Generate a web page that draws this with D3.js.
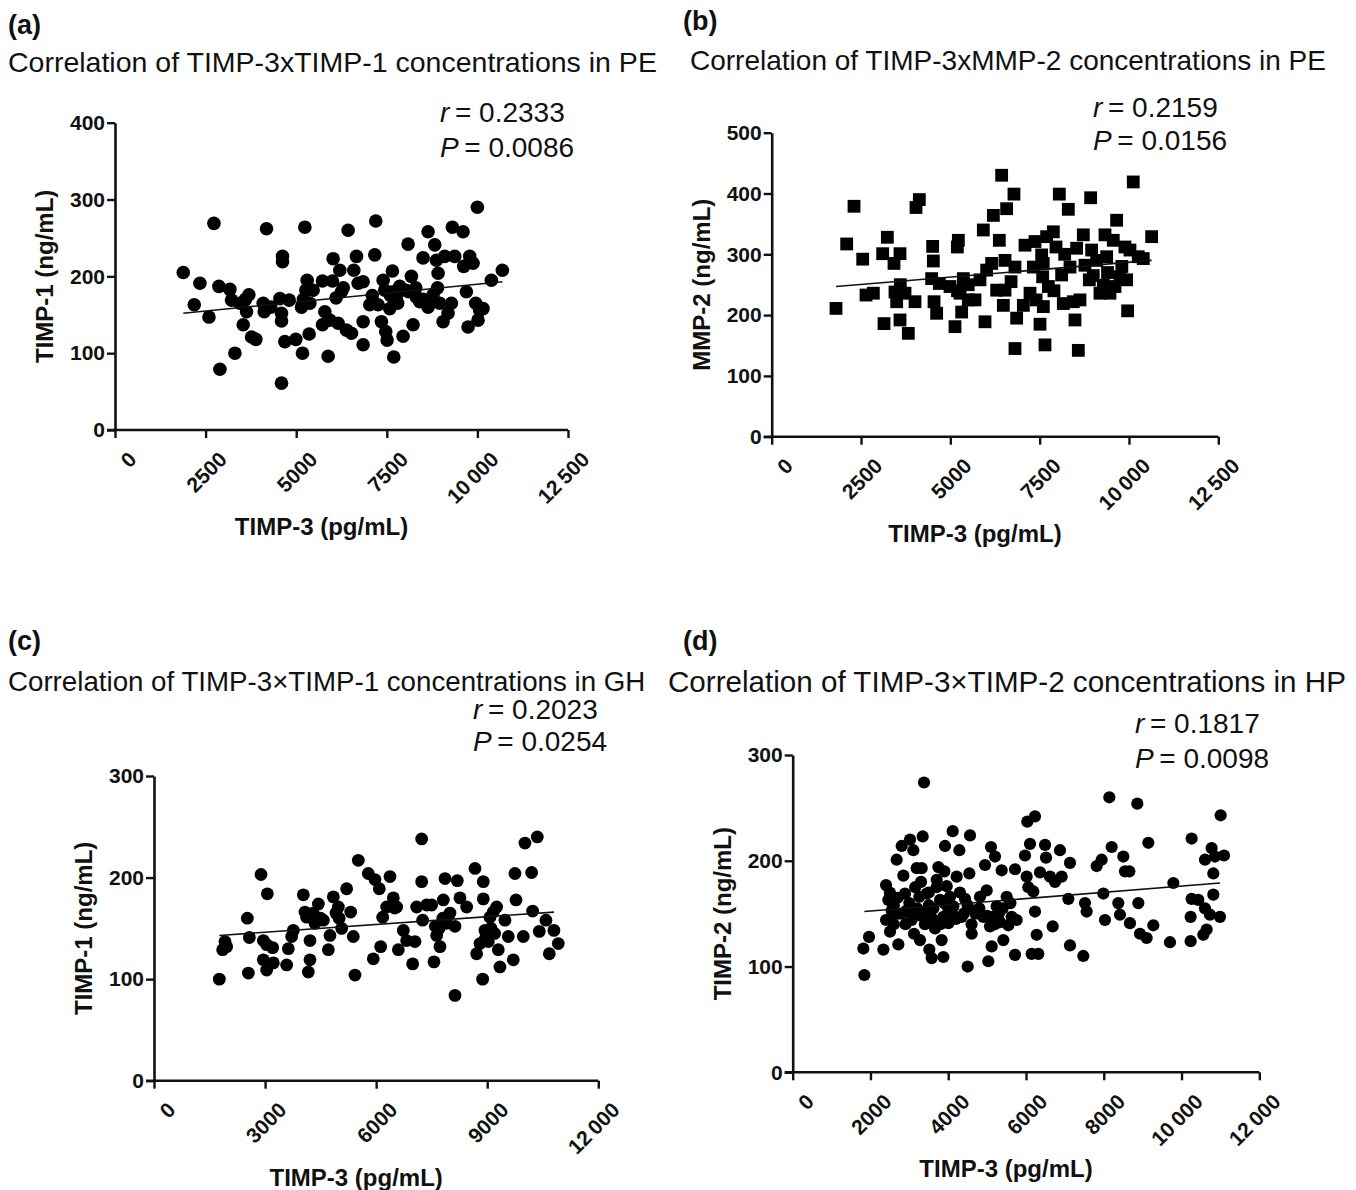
<!DOCTYPE html>
<html>
<head>
<meta charset="utf-8">
<script src="https://cdn.jsdelivr.net/npm/d3@7"></script>
<style>
  body { margin: 0; background: #fff; }
  text { font-family: "Liberation Sans", Arial, sans-serif; fill: #111; }
</style>
</head>
<body>
<div id="chart"></div>
<script>
// values: [TIMP-3 pg/mL, other marker]
const pointsA = [[1884,205],[2187,163],[2343,191],[2592,147],[2730,269],[2895,79],[2867,187],[3170,183],[3217,169],[3309,100],
  [3446,165],[3538,137],[3630,154],[3694,176],[3768,121],[3887,118],[4090,165],[4117,154],[4181,262],[4549,171],
  [4622,226],[4622,219],[4595,152],[4595,142],[4595,61],[4687,115],[4806,169],[4990,118],[5146,160],[5174,100],
  [5238,264],[5302,195],[5266,182],[5376,165],[5357,125],[5468,182],[5725,194],[5790,154],[5725,137],[5881,96],
  [5927,143],[6019,223],[6001,194],[6157,139],[6203,208],[6249,180],[6387,130],[6433,260],[6525,126],[6590,208],
  [6663,226],[6709,191],[6847,193],[6847,141],[6847,111],[7030,163],[7168,228],[7196,272],[7260,163],[7352,141],
  [7444,182],[7471,128],[7508,117],[7582,158],[7655,207],[7674,180],[7692,95],[7765,171],[7857,187],[7949,122],
  [8023,182],[8087,242],[8179,200],[8225,137],[8317,173],[8409,167],[8501,224],[8639,258],[8639,160],[8777,176],
  [8823,241],[8869,221],[8915,204],[8961,165],[9053,141],[9099,226],[9190,152],[9282,165],[9310,264],[9374,226],
  [9604,258],[9622,213],[9696,180],[9742,134],[9788,226],[9880,217],[9953,165],[10017,143],[10063,156],[9999,290],
  [10155,158],[10385,195],[10688,208],[7600,175],[7800,165],[8100,180],[8300,185],[8500,170],[8700,165],[8900,185],
  [7400,195],[6300,185],[5200,170],[6100,172],[4300,160],[3600,170],[7100,175]];
const fitA = [[1884,152],[10690,193]];

const pointsB = [[1800,211],[2099,317],[2304,379],[2547,292],[2640,233],[2845,236],[3106,301],[3237,328],[3144,186],[3423,285],
  [3591,301],[3451,238],[3498,222],[3591,192],[3731,236],[3824,170],[4011,222],[4039,377],[4132,390],[4505,313],
  [4524,289],[4477,260],[4543,222],[4617,203],[4692,252],[4990,247],[5130,181],[5196,312],[5224,323],[5270,236],
  [5317,205],[5364,260],[5503,225],[5690,225],[5830,258],[5923,340],[5970,189],[6017,274],[6157,285],[6204,364],
  [6371,323],[6297,241],[6436,430],[6530,241],[6483,216],[6576,375],[6530,290],[6781,399],[6809,279],[6809,145],
  [6856,195],[7043,216],[7090,315],[7230,236],[7323,279],[7370,321],[7510,185],[7556,299],[7584,263],[7603,214],
  [7649,151],[7696,329],[7743,247],[7883,337],[7957,312],[8050,399],[8115,266],[8162,219],[8302,374],[8349,279],
  [8442,222],[8488,192],[8535,310],[8582,142],[8628,225],[8722,332],[8768,282],[8890,258],[8927,393],[8955,307],
  [9095,290],[9188,236],[9282,249],[9328,332],[9375,296],[9468,236],[9561,323],[9608,247],[9654,356],[9748,263],
  [9887,312],[9934,258],[9962,207],[10027,307],[10120,419],[10260,296],[10400,293],[10634,329],[7600,285],[7900,240],
  [8200,300],[9000,265],[9400,270],[5500,250],[5200,240],[6700,255],[3600,250],[7400,225],[9800,280]];
const fitB = [[1800,247],[10634,290]];

const pointsC = [[1764,100],[1854,129],[1962,132],[1917,137],[2521,160],[2575,141],[2548,106],[2890,203],[3061,184],[2953,138],
  [3043,134],[2953,119],[3043,109],[3205,131],[3223,116],[3583,114],[3628,130],[3718,142],[3763,148],[4033,183],
  [4078,166],[4123,161],[4168,107],[4213,138],[4213,119],[4349,155],[4439,174],[4574,158],[4709,129],[4753,143],
  [4844,181],[4916,165],[4979,171],[5069,150],[5203,189],[5311,166],[5383,142],[5428,104],[5518,217],[5788,204],
  [5968,198],[6085,189],[5923,120],[6122,132],[6176,161],[6284,171],[6374,201],[6464,180],[6554,171],[6599,129],
  [6734,148],[6824,138],[6986,115],[7049,137],[7094,171],[7229,196],[7229,238],[7256,158],[7364,173],[7499,173],
  [7562,117],[7634,143],[7724,132],[7814,178],[7859,199],[7904,155],[7994,165],[8129,84],[8129,152],[8192,197],
  [8264,180],[8444,171],[8669,209],[8714,125],[8804,135],[8894,196],[8894,179],[8876,100],[8939,148],[9029,137],
  [9074,161],[9164,166],[9254,171],[9299,129],[9344,112],[9479,158],[9569,142],[9704,119],[9749,204],[9776,178],
  [9974,142],[10019,234],[10199,205],[10226,167],[10352,240],[10406,147],[10586,158],[10676,125],[10802,148],[10919,135],
  [4300,165],[4500,160],[7700,150],[7800,160],[7600,152],[8950,140],[9100,150],[9200,145],[5000,160],[6500,170]];
const fitC = [[1764,143],[10802,166]];

const pointsD = [[1843,92],[1817,117],[1963,128],[2332,116],[2400,177],[2460,163],[2400,144],[2503,133],[2546,153],[2674,201],
  [2717,121],[2803,214],[2846,186],[2889,169],[2931,153],[3017,220],[3060,144],[3103,210],[3120,131],[3189,193],
  [3257,166],[3274,125],[3343,223],[3317,193],[3377,274],[3403,150],[3446,169],[3514,116],[3574,108],[3617,155],
  [3660,136],[3703,182],[3746,194],[3789,163],[3831,125],[3874,109],[3874,147],[3917,214],[3960,176],[4003,141],
  [4046,166],[4114,228],[4131,157],[4217,185],[4286,210],[4346,147],[4431,164],[4500,100],[4543,188],[4560,224],
  [4603,131],[4689,153],[4817,166],[4903,147],[4946,196],[4989,172],[5031,105],[5074,138],[5100,213],[5117,119],
  [5160,147],[5203,204],[5246,157],[5331,142],[5374,191],[5417,125],[5503,166],[5546,139],[5631,147],[5717,111],
  [5717,192],[5760,144],[5974,205],[6017,185],[6034,237],[6060,175],[6103,216],[6146,112],[6189,171],[6231,242],
  [6231,152],[6274,130],[6317,112],[6360,189],[6489,215],[6514,203],[6617,185],[6686,138],[6746,180],[6874,210],
  [6917,185],[7089,164],[7131,198],[7131,120],[7474,110],[7517,160],[7560,152],[7817,195],[7946,201],[7989,169],
  [8031,144],[8143,260],[8203,213],[8374,160],[8417,149],[8503,204],[8546,190],[8657,190],[8674,141],[8863,254],
  [8889,160],[8931,131],[9103,127],[9146,217],[9274,139],[9703,123],[9789,179],[10234,124],[10234,147],[10260,221],
  [10260,164],[10431,163],[10560,130],[10646,135],[10603,155],[10603,201],[10731,149],[10774,212],[10817,188],[10817,168],
  [10860,204],[10989,147],[11006,243],[11092,205],
  [3000,160],[3100,150],[3200,155],[2600,158],[2700,165],[2800,150],[3300,148],[3400,140],[3500,158],[3600,145],
  [3900,160],[4100,150],[4200,145],[4400,150],[4500,158],[4600,140],[4700,150],[4800,155],[5000,148],[5200,140],
  [5300,150],[5400,155],[2500,170],[2600,140],[2900,140],[3150,175],[3300,180],[3500,170],[3700,175],[3900,190],
  [4300,170],[5600,160],[2700,150],[2500,145],[3800,140],[4000,155]];
const fitD = [[1843,152],[10989,179]];

const xTicksAB = [0, 2500, 5000, 7500, 10000, 12500];
const xTicksC = [0, 3000, 6000, 9000, 12000];
const xTicksD = [0, 2000, 4000, 6000, 8000, 10000, 12000];
const yTicksA = [0, 100, 200, 300, 400];
const yTicksB = [0, 100, 200, 300, 400, 500];
const yTicks300 = [0, 100, 200, 300];

const panels = [
  { tag: "(a)", title: "Correlation of TIMP-3xTIMP-1 concentrations in PE", r: "0.2333", p: "0.0086",
    yLabel: "TIMP-1 (ng/mL)", points: pointsA, fit: fitA, xTicks: xTicksAB, yTicks: yTicksA, shape: "circle",
    left: 115, right: 568, bottom: 430, top: 122.7, tagPos: [8, 34], titlePos: [8, 72], titleSize: 28.5,
    statPos: [440, 122, 157], markR: 6.8 },
  { tag: "(b)", title: "Correlation of TIMP-3xMMP-2 concentrations in PE", r: "0.2159", p: "0.0156",
    yLabel: "MMP-2 (ng/mL)", points: pointsB, fit: fitB, xTicks: xTicksAB, yTicks: yTicksB, shape: "square",
    left: 771.7, right: 1218.3, bottom: 436.7, top: 132.7, tagPos: [683, 30], titlePos: [690, 70], titleSize: 28,
    statPos: [1093, 117, 150], markR: 6.4 },
  { tag: "(c)", title: "Correlation of TIMP-3×TIMP-1 concentrations in GH", r: "0.2023", p: "0.0254",
    yLabel: "TIMP-1 (ng/mL)", points: pointsC, fit: fitC, xTicks: xTicksC, yTicks: yTicks300, shape: "circle",
    left: 154, right: 598.3, bottom: 1080.7, top: 776, tagPos: [8, 650], titlePos: [8, 691], titleSize: 27.7,
    statPos: [473, 719, 751], markR: 6.4 },
  { tag: "(d)", title: "Correlation of TIMP-3×TIMP-2 concentrations in HP", r: "0.1817", p: "0.0098",
    yLabel: "TIMP-2 (ng/mL)", points: pointsD, fit: fitD, xTicks: xTicksD, yTicks: yTicks300, shape: "circle",
    left: 792.7, right: 1259.3, bottom: 1072.3, top: 755, tagPos: [683, 650], titlePos: [668, 692], titleSize: 29.6,
    statPos: [1135, 733, 768], markR: 6.1 }
];

const svg = d3.select("#chart").append("svg")
  .attr("width", 1356)
  .attr("height", 1190)
  .style("background", "#fff");

const fmt = d => d >= 10000 ? String(Math.floor(d / 1000)) + "\u2009" + String(d % 1000).padStart(3, "0") : String(d);

panels.forEach(p => {
  const g = svg.append("g");
  const xMax = p.xTicks[p.xTicks.length - 1];
  const yMax = p.yTicks[p.yTicks.length - 1];

  const x = d3.scaleLinear().domain([0, xMax]).range([p.left, p.right]);
  const y = d3.scaleLinear().domain([0, yMax]).range([p.bottom, p.top]);

  // headings
  g.append("text").attr("x", p.tagPos[0]).attr("y", p.tagPos[1])
    .attr("font-size", 27).attr("font-weight", "bold").text(p.tag);
  g.append("text").attr("x", p.titlePos[0]).attr("y", p.titlePos[1])
    .attr("font-size", p.titleSize).text(p.title);

  const r = g.append("text").attr("x", p.statPos[0]).attr("y", p.statPos[1]).attr("font-size", 28);
  r.append("tspan").attr("font-style", "italic").text("r");
  r.append("tspan").text("\u2009= " + p.r);
  const pv = g.append("text").attr("x", p.statPos[0]).attr("y", p.statPos[2]).attr("font-size", 28);
  pv.append("tspan").attr("font-style", "italic").text("P");
  pv.append("tspan").text("\u2009= " + p.p);

  // axes
  const xAxis = d3.axisBottom(x).tickValues(p.xTicks).tickSize(8).tickSizeOuter(0).tickFormat(fmt);
  const yAxis = d3.axisLeft(y).tickValues(p.yTicks).tickSize(8).tickSizeOuter(0);

  const xg = g.append("g").attr("transform", `translate(0,${p.bottom})`).call(xAxis);
  const yg = g.append("g").attr("transform", `translate(${p.left},0)`).call(yAxis);

  [xg, yg].forEach(a => {
    a.select(".domain").attr("stroke", "#111").attr("stroke-width", 2.6);
    a.selectAll(".tick line").attr("stroke", "#111").attr("stroke-width", 2.4);
    a.selectAll(".tick text").attr("fill", "#111")
      .style("font-family", '"Liberation Sans", Arial, sans-serif')
      .attr("font-size", 21).attr("font-weight", "bold");
  });
  // x axis line reaches a little left of the y axis
  xg.select(".domain").attr("d", `M${p.left - 8},0H${p.right}`);

  xg.selectAll(".tick text")
    .attr("text-anchor", "end")
    .attr("transform", "rotate(-45)")
    .attr("x", -6)
    .attr("y", 30)
    .attr("dy", "0.35em");
  yg.selectAll(".tick text").attr("x", -10);

  // axis titles
  g.append("text")
    .attr("transform", `translate(${p.left - 70},${(p.top + p.bottom) / 2}) rotate(-90)`)
    .attr("text-anchor", "middle").attr("dy", "0.35em")
    .attr("font-size", 24).attr("font-weight", "bold")
    .text(p.yLabel);
  g.append("text")
    .attr("x", (p.left + p.right) / 2 - 20).attr("y", p.bottom + 105)
    .attr("text-anchor", "middle")
    .attr("font-size", 24).attr("font-weight", "bold")
    .text("TIMP-3 (pg/mL)");

  // points
  if (p.shape === "square") {
    g.append("g").selectAll("rect").data(p.points).enter().append("rect")
      .attr("x", d => x(d[0]) - p.markR)
      .attr("y", d => y(d[1]) - p.markR)
      .attr("width", p.markR * 2)
      .attr("height", p.markR * 2)
      .attr("fill", "#000");
  } else {
    g.append("g").selectAll("circle").data(p.points).enter().append("circle")
      .attr("cx", d => x(d[0]))
      .attr("cy", d => y(d[1]))
      .attr("r", p.markR)
      .attr("fill", "#000");
  }

  // regression line
  g.append("path")
    .datum(p.fit)
    .attr("d", d3.line().x(d => x(d[0])).y(d => y(d[1])))
    .attr("stroke", "#111")
    .attr("stroke-width", 1.6)
    .attr("fill", "none");
});
</script>
</body>
</html>
